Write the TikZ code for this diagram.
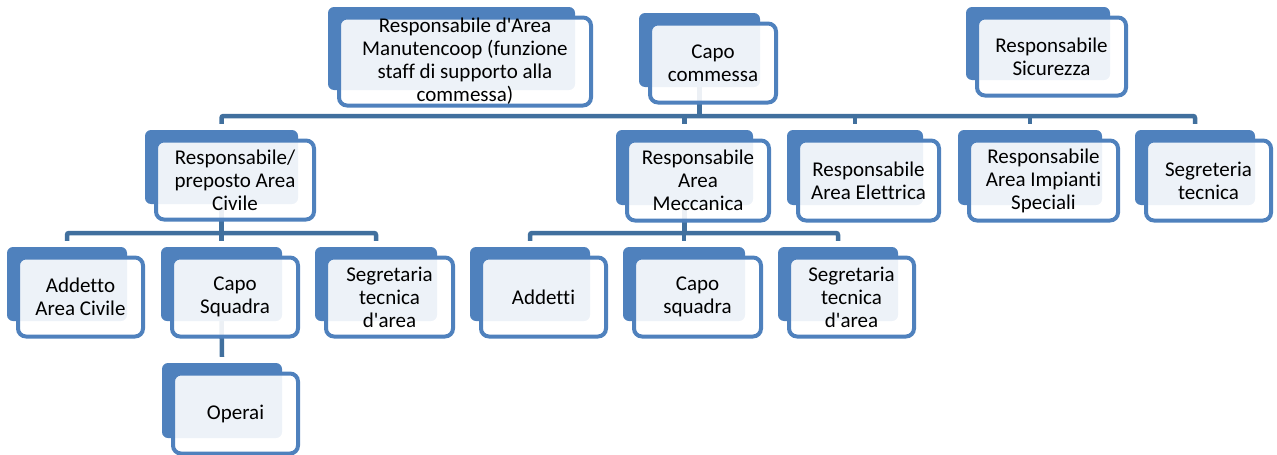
\documentclass[tikz,border=0pt]{standalone}
\usepackage{fontspec}
\setmainfont{Carlito}[Ligatures={NoCommon}]
\usetikzlibrary{calc}
\definecolor{unitblue}{HTML}{4F81BD}
\definecolor{linkblue}{HTML}{41709E}
\pgfdeclarelayer{background}
\pgfsetlayers{background,main}

% One organisational unit: a solid back card and a framed, translucent front card
% #1 name, #2-#5 back card corners (x1,y1,x2,y2), #6 label
\newcommand\orgunit[6]{%
  \pgfmathsetmacro\unitw{#4-#2}%
  \pgfmathsetmacro\unith{#5-#3}%
  \node[backcard, minimum width=\unitw pt, minimum height=\unith pt]
    (#1b) at ({(#2+#4)/2},{(#3+#5)/2}) {};
  \node[frontcard, minimum width=\unitw pt+5pt, minimum height=\unith pt+5pt]
    (#1) at ({(#2+#4)/2+13.5},{(#3+#5)/2+13}) {#6};
}
\newcommand\apos{\textquotesingle}

\tikzset{
  backcard/.style={rectangle, fill=unitblue, draw=none, rounded corners=6pt, inner sep=0pt},
  frontcard/.style={rectangle, draw=unitblue, line width=4pt, fill=white, fill opacity=0.9,
    text opacity=1, rounded corners=8pt, inner sep=0pt, align=center,
    font=\fontsize{21}{23}\selectfont},
  link/.style={draw=linkblue, line width=4.5pt, rounded corners=2pt},
}

\begin{document}
\begin{tikzpicture}[x=1pt,y=-1pt]
\useasboundingbox (0,0) rectangle (1277,455);

% top level
\orgunit{manu}{328}{7}{575}{90}{Responsabile d\apos Area\\Manutencoop (funzione\\staff di supporto alla\\commessa)}
\orgunit{capo}{639}{13}{760}{87}{Capo\\commessa}
\orgunit{sic}{966}{7}{1110}{80}{Responsabile\\Sicurezza}

% second level
\orgunit{civ}{145}{130}{298}{204}{Responsabile/\\preposto Area\\Civile}
\orgunit{mec}{616}{130}{753}{205}{Responsabile\\Area\\Meccanica}
\orgunit{ele}{787}{130}{923}{205}{Responsabile\\Area Elettrica}
\orgunit{imp}{958}{130}{1102}{205}{Responsabile\\Area Impianti\\Speciali}
\orgunit{seg}{1135}{130}{1255}{205}{Segreteria\\tecnica}

% third level, civil area
\orgunit{addc}{7}{247}{127}{321}{Addetto\\Area Civile}
\orgunit{caps}{161}{247}{282}{321}{Capo\\Squadra}
\orgunit{segc}{315}{247}{437}{321}{Segretaria\\tecnica\\d\apos area}

% third level, mechanical area
\orgunit{add}{470}{247}{590}{321}{Addetti}
\orgunit{capm}{623}{247}{745}{321}{Capo\\squadra}
\orgunit{segm}{778}{247}{898}{321}{Segretaria\\tecnica\\d\apos area}

% fourth level
\orgunit{ope}{162}{363}{282}{438}{Operai}

\coordinate (busA) at (0,116);
\coordinate (busB) at (0,233);

\begin{pgfonlayer}{background}
  % from the project manager to the area managers
  \draw[link] (capob.south) -- (capob.south |- busA);
  \draw[link] ([yshift=6pt]civb.north) -- (civb.north |- busA)
    -- (segb.north |- busA) -- ([yshift=6pt]segb.north);
  \draw[link] (mecb.north |- busA) -- ([yshift=6pt]mecb.north);
  \draw[link] (eleb.north |- busA) -- ([yshift=6pt]eleb.north);
  \draw[link] (impb.north |- busA) -- ([yshift=6pt]impb.north);

  % civil area
  \draw[link] (civb.south) -- (civb.south |- busB);
  \draw[link] ([yshift=6pt]addcb.north) -- (addcb.north |- busB)
    -- (segcb.north |- busB) -- ([yshift=6pt]segcb.north);
  \draw[link] (capsb.north |- busB) -- ([yshift=6pt]capsb.north);
  \draw[link] (capsb.south) -- ([yshift=6pt]opeb.north);

  % mechanical area
  \draw[link] (mecb.south) -- (mecb.south |- busB);
  \draw[link] ([yshift=6pt]addb.north) -- (addb.north |- busB)
    -- (segmb.north |- busB) -- ([yshift=6pt]segmb.north);
  \draw[link] (capmb.north |- busB) -- ([yshift=6pt]capmb.north);
\end{pgfonlayer}
\end{tikzpicture}
\end{document}
